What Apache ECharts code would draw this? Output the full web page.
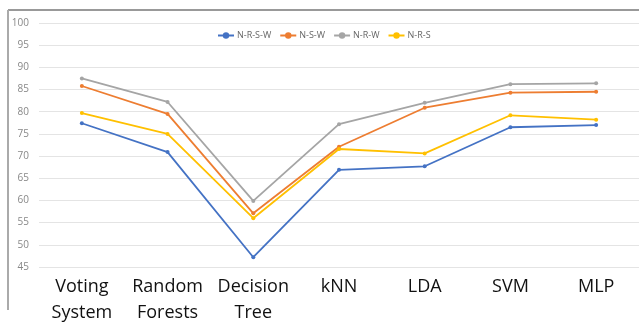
<!DOCTYPE html>
<html>
<head>
<meta charset="utf-8">
<script src="https://cdn.jsdelivr.net/npm/echarts@6/dist/echarts.min.js"></script>
<style>
html,body{margin:0;padding:0;background:#fff;}
#chart{width:639px;height:326px;}
</style>
</head>
<body>
<div id="chart"></div>
<script>
// Classifier names on the x axis
const categories = ['Voting\nSystem', 'Random\nForests', 'Decision\nTree', 'kNN', 'LDA', 'SVM', 'MLP'];

// Accuracy (%) per feature combination
const seriesNames = ['N-R-S-W', 'N-S-W', 'N-R-W', 'N-R-S'];
const nrsw = [77.4, 70.9, 47.2, 66.9, 67.7, 76.5, 77.0];
const nsw  = [85.8, 79.5, 57.1, 72.1, 80.9, 84.3, 84.5];
const nrw  = [87.5, 82.2, 59.9, 77.2, 82.0, 86.2, 86.4];
const nrs  = [79.7, 75.0, 56.0, 71.6, 70.6, 79.2, 78.2];

const yTicks = { min: 45, max: 100, step: 5 };

const colors = ['#4472C4', '#ED7D31', '#A5A5A5', '#FFC000'];
const values = [nrsw, nsw, nrw, nrs];

const chart = echarts.init(document.getElementById('chart'));
chart.setOption({
  animation: false,
  backgroundColor: '#fff',
  color: colors,
  grid: { left: 39, top: 23, width: 603, height: 246 },
  legend: {
    left: 217, top: 31, padding: 0,
    itemWidth: 16, itemHeight: 8, itemGap: 8,
    textStyle: { fontSize: 9, color: '#666', fontFamily: 'Open Sans', padding: [0, 0, 0, -2] },
    data: seriesNames
  },
  xAxis: {
    type: 'category',
    data: categories,
    boundaryGap: true,
    axisLine: { show: false },
    axisTick: { show: false },
    axisLabel: {
      margin: 7, fontSize: 18, lineHeight: 26, color: '#111',
      fontFamily: 'Open Sans', interval: 0
    }
  },
  yAxis: {
    type: 'value',
    min: yTicks.min, max: yTicks.max, interval: yTicks.step,
    axisLine: { show: false },
    axisTick: { show: false },
    axisLabel: { margin: 10, fontSize: 10, color: '#888', fontFamily: 'Open Sans' },
    splitLine: { lineStyle: { color: '#e4e4e4', width: 1 } }
  },
  series: seriesNames.map((name, i) => ({
    name: name,
    type: 'line',
    data: values[i],
    symbol: 'circle',
    symbolSize: 4,
    lineStyle: { width: 1.8 },
    z: 2 + i
  })),
  graphic: [
    { type: 'line', shape: { x1: 8, y1: 10, x2: 639, y2: 10 }, style: { stroke: '#999', lineWidth: 2 } },
    { type: 'line', shape: { x1: 8, y1: 10, x2: 8, y2: 310 }, style: { stroke: '#aaa', lineWidth: 2 } }
  ]
});
</script>
</body>
</html>
